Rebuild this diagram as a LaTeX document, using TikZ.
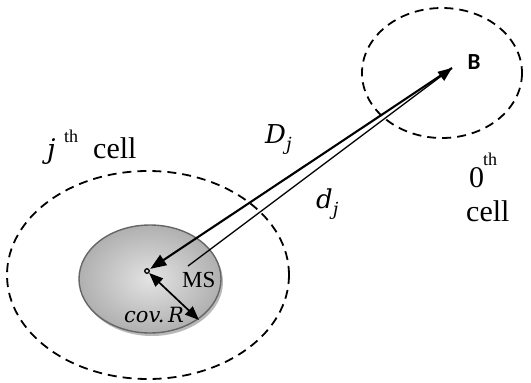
\documentclass[tikz,border=0pt]{standalone}
\usepackage{fontspec}
\setmainfont{Liberation Serif}
\newfontfamily\bfont{Carlito}
\newfontfamily\mfont{DejaVu Serif}
\usetikzlibrary{arrows.meta}
\newcommand{\mv}[1]{{\mfont\itshape #1}}
\newcommand{\msub}[1]{\raisebox{-0.28em}{\fontsize{18}{20}\selectfont\mfont\itshape #1}}
\begin{document}
\begin{tikzpicture}[x=1pt,y=-1pt,
  cellline/.style={dash pattern=on 9pt off 6pt,line width=1.8pt},
  tri/.style={-{Triangle[length=14pt,width=11pt]}},
  lbl/.style={inner sep=0pt,anchor=base west}]
\useasboundingbox (0,0) rectangle (531,383);
% cells
\draw[cellline] (148,275) ellipse [x radius=141, y radius=104];
\draw[cellline] (442,73) ellipse [x radius=80, y radius=65];
% disk with shadow
\fill[gray!55] (152,282) ellipse [x radius=71, y radius=54];
\shade[inner color=gray!22, outer color=gray!62, draw=gray!80!black, line width=1.4pt] (150,279) ellipse [x radius=71, y radius=54];
% points
\node[draw,circle,line width=1.3pt,inner sep=1.6pt] (ms) at (147,271) {};
\coordinate (btip) at (452,68);
\coordinate (djs) at (188,266);
\coordinate (rim) at (199,320);
\node[inner sep=0pt] (B) at (474,62) {\bfont\fontsize{23}{26}\selectfont\bfseries B};
% connectors
\draw[line width=1.3pt,tri] (djs) -- (btip);
\draw[line width=2.1pt,-{Triangle[length=16pt,width=12pt]},shorten >=1pt] (btip) -- (ms);
\draw[line width=1.7pt,{Triangle[length=14pt,width=11pt]}-{Triangle[length=14pt,width=11pt]}] (ms) -- (rim);
% labels
\node[lbl] (jl) at (47,158) {\fontsize{27}{30}\selectfont\mv{j}};
\node[lbl] (jth) at (64,142) {\fontsize{18}{20}\selectfont th};
\node[lbl] (jcell) at (93,158) {\fontsize{30}{34}\selectfont cell};
\node[lbl] (Dj) at (265,143) {\fontsize{26}{30}\selectfont\mv{D}\msub{j}};
\node[lbl] (dj) at (316,208) {\fontsize{26}{30}\selectfont\mv{d}\msub{j}};
\node[lbl] (z) at (469,187) {\fontsize{30}{34}\selectfont 0};
\node[lbl] (zth) at (483,165) {\fontsize{18}{20}\selectfont th};
\node[lbl] (zcell) at (466,221) {\fontsize{30}{34}\selectfont cell};
\node[lbl] (MS) at (182,287) {\fontsize{23}{26}\selectfont MS};
\node[lbl] (cov) at (124,322) {\fontsize{21}{26}\selectfont\mv{cov.\,R}};
\end{tikzpicture}
\end{document}
